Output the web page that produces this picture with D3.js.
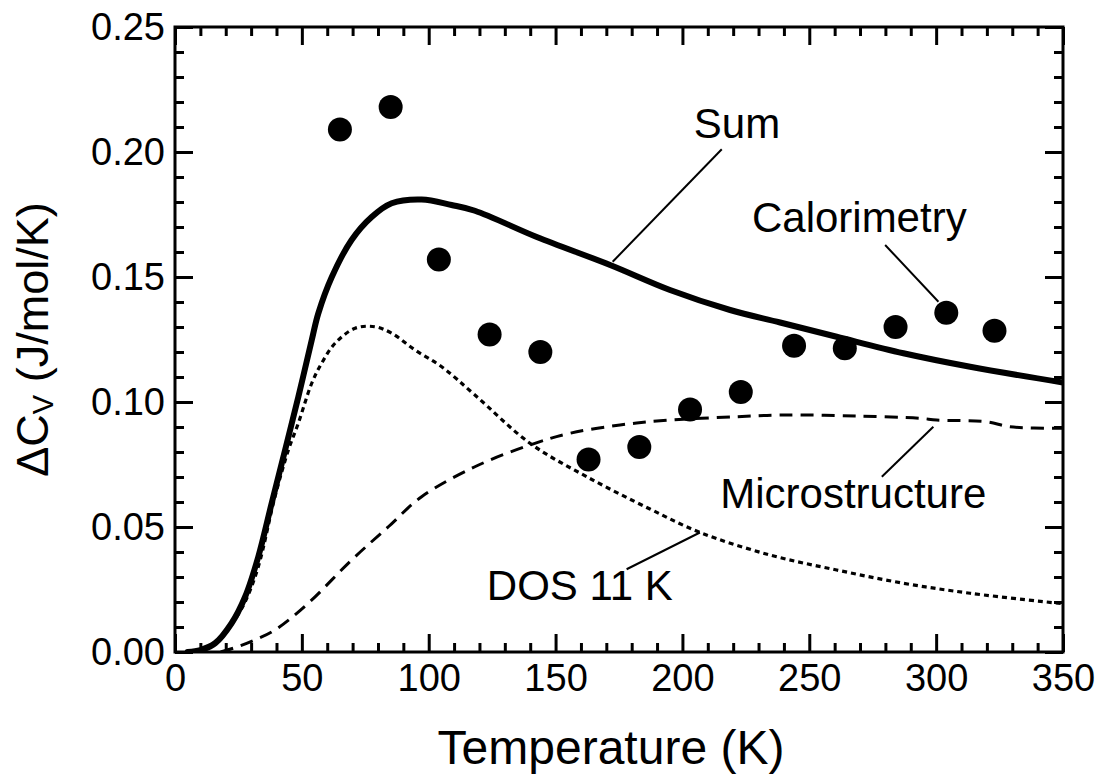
<!DOCTYPE html>
<html>
<head>
<meta charset="utf-8">
<script src="https://cdn.jsdelivr.net/npm/d3@7"></script>
<style>
  html, body { margin: 0; padding: 0; background: #fff; }
  svg { display: block; font-family: "Liberation Sans", Arial, Helvetica, sans-serif; }
</style>
</head>
<body>
<svg id="chart" width="1098" height="777"></svg>
<script>
// Heat capacity difference vs temperature: calorimetry points and model curves
const calT = [65, 85, 104, 124, 144, 163, 183, 203, 223, 244, 264, 284, 304, 323];
const calV = [0.209, 0.218, 0.157, 0.127, 0.120, 0.077, 0.082, 0.097, 0.104, 0.1225, 0.1215, 0.130, 0.1357, 0.1285];

const sumT = [5, 10, 15.8, 22.3, 27.6, 32.8, 38.1, 43.4, 48.6, 53.9, 56.5, 61.8, 69.6, 77.5, 85.4, 97.2, 109, 118.2, 142.6, 171.5, 195.1, 218.8, 238.5, 260.8, 287.1, 313.4, 350];
const sumV = [0.0, 0.0008, 0.0035, 0.0115, 0.022, 0.038, 0.0595, 0.0808, 0.102, 0.1248, 0.1355, 0.150, 0.1648, 0.174, 0.1795, 0.181, 0.1788, 0.1765, 0.166, 0.1548, 0.1448, 0.1368, 0.1318, 0.1261, 0.1195, 0.1141, 0.1078];

const dosT = [5, 10, 15.8, 22.3, 27.6, 32.8, 39.4, 44.7, 48.6, 53.9, 57.8, 63.1, 71, 78.8, 85.4, 94.6, 105.1, 118.2, 139.9, 162.3, 187.2, 207, 234.5, 260.8, 287.1, 313.4, 350];
const dosV = [0.0, 0.0008, 0.0035, 0.011, 0.020, 0.034, 0.0621, 0.0808, 0.0915, 0.1075, 0.1155, 0.1235, 0.1295, 0.1301, 0.1275, 0.1208, 0.1141, 0.1028, 0.0835, 0.0701, 0.0572, 0.0478, 0.0388, 0.0328, 0.0275, 0.0235, 0.0193];

const microT = [18, 25, 31.5, 39.4, 52.5, 69.6, 84.1, 97.2, 118.2, 139.9, 155.7, 175.4, 195.1, 221.4, 238.5, 268.7, 293.7, 300.2, 320, 329, 350];
const microV = [0.0, 0.0022, 0.0048, 0.0088, 0.0195, 0.0368, 0.0501, 0.0621, 0.0741, 0.0828, 0.0875, 0.0908, 0.0928, 0.0941, 0.0948, 0.0944, 0.0935, 0.0928, 0.0921, 0.0901, 0.0895];

const xMajor = [0, 50, 100, 150, 200, 250, 300, 350];
const yMajor = [0.00, 0.05, 0.10, 0.15, 0.20, 0.25];

// label text, anchor (T, V) and leader line from (T, V) to (T, V)
const labels = ["Sum", "Calorimetry", "Microstructure", "DOS 11 K"];
const labelAt = [[204.5, 0.2056], [227.4, 0.1680], [214.9, 0.0576], [122.9, 0.0208]];
const leaders = [
  [[215.5, 0.2011], [172.5, 0.1561]],
  [[279.9, 0.1628], [300.9, 0.1401]],
  [[298.9, 0.0901], [278.6, 0.0701]],
  [[206.9, 0.0478], [178.0, 0.0331]]
];

const svg = d3.select("#chart");
const margin = { left: 175, top: 27, right: 35, bottom: 125 };
const W = 1098 - margin.left - margin.right;
const H = 777 - margin.top - margin.bottom;

const x = d3.scaleLinear().domain([0, 350]).range([0, W]);
const y = d3.scaleLinear().domain([0, 0.25]).range([H, 0]);

const g = svg.append("g").attr("transform", `translate(${margin.left},${margin.top})`);

const minorX = d3.range(0, 351, 10).filter(v => v % 50 !== 0);
const minorY = d3.range(0, 26, 1).filter(v => v % 5 !== 0).map(v => v / 100);

function styleAxis(sel) {
  sel.select(".domain").remove();
  sel.selectAll(".tick line").attr("stroke", "#000").attr("stroke-width", 3);
  sel.selectAll(".tick text").attr("fill", "#000").attr("font-size", 38)
     .attr("font-family", "'Liberation Sans', Arial, sans-serif");
}

// bottom axis (labelled) and minor ticks
g.append("g").attr("transform", `translate(0,${H})`)
  .call(d3.axisBottom(x).tickValues(xMajor).tickFormat(d3.format("d")).tickSize(-18).tickPadding(12))
  .call(styleAxis);
g.append("g").attr("transform", `translate(0,${H})`)
  .call(d3.axisBottom(x).tickValues(minorX).tickFormat("").tickSize(-9))
  .call(styleAxis);
// top mirror
g.append("g")
  .call(d3.axisTop(x).tickValues(xMajor).tickFormat("").tickSize(-18))
  .call(styleAxis);
g.append("g")
  .call(d3.axisTop(x).tickValues(minorX).tickFormat("").tickSize(-9))
  .call(styleAxis);
// left axis
g.append("g")
  .call(d3.axisLeft(y).tickValues(yMajor).tickFormat(d3.format(".2f")).tickSize(-18).tickPadding(10))
  .call(styleAxis);
g.append("g")
  .call(d3.axisLeft(y).tickValues(minorY).tickFormat("").tickSize(-9))
  .call(styleAxis);
// right mirror
g.append("g").attr("transform", `translate(${W},0)`)
  .call(d3.axisRight(y).tickValues(yMajor).tickFormat("").tickSize(-18))
  .call(styleAxis);
g.append("g").attr("transform", `translate(${W},0)`)
  .call(d3.axisRight(y).tickValues(minorY).tickFormat("").tickSize(-9))
  .call(styleAxis);

// frame
g.append("rect").attr("x", 0).attr("y", 0).attr("width", W).attr("height", H)
  .attr("fill", "none").attr("stroke", "#000").attr("stroke-width", 3);

const line = d3.line().x(d => x(d[0])).y(d => y(d[1])).curve(d3.curveCatmullRom.alpha(0.5));
const zip = (a, b) => a.map((v, i) => [v, b[i]]);

g.append("clipPath").attr("id", "plotclip")
  .append("rect").attr("x", 0).attr("y", 0).attr("width", W).attr("height", H);
const plot = g.append("g").attr("clip-path", "url(#plotclip)");

plot.append("path").datum(zip(microT, microV)).attr("d", line)
  .attr("fill", "none").attr("stroke", "#000").attr("stroke-width", 3)
  .attr("stroke-dasharray", "13,8");
plot.append("path").datum(zip(dosT, dosV)).attr("d", line)
  .attr("fill", "none").attr("stroke", "#000").attr("stroke-width", 3.2)
  .attr("stroke-dasharray", "5,4");
plot.append("path").datum(zip(sumT, sumV)).attr("d", line)
  .attr("fill", "none").attr("stroke", "#000").attr("stroke-width", 6)
  .attr("stroke-linejoin", "round").attr("stroke-linecap", "round");

plot.selectAll("circle.cal").data(zip(calT, calV)).enter().append("circle")
  .attr("class", "cal")
  .attr("cx", d => x(d[0])).attr("cy", d => y(d[1])).attr("r", 12)
  .attr("fill", "#000");

// annotations
g.selectAll("line.leader").data(leaders).enter().append("line")
  .attr("class", "leader")
  .attr("x1", d => x(d[0][0])).attr("y1", d => y(d[0][1]))
  .attr("x2", d => x(d[1][0])).attr("y2", d => y(d[1][1]))
  .attr("stroke", "#000").attr("stroke-width", 2);

g.selectAll("text.note").data(labels).enter().append("text")
  .attr("class", "note")
  .attr("x", (d, i) => x(labelAt[i][0])).attr("y", (d, i) => y(labelAt[i][1]))
  .attr("font-size", 42).attr("fill", "#000")
  .text(d => d);

// axis titles
svg.append("text")
  .attr("x", margin.left + W / 2 - 8).attr("y", 764)
  .attr("text-anchor", "middle").attr("font-size", 48).attr("fill", "#000")
  .text("Temperature (K)");

const yt = svg.append("text")
  .attr("transform", `translate(48,${margin.top + H / 2}) rotate(-90)`)
  .attr("text-anchor", "middle").attr("font-size", 45).attr("fill", "#000");
yt.append("tspan").text("\u0394C");
yt.append("tspan").attr("font-size", 29).attr("dy", 5).text("V");
yt.append("tspan").attr("dy", -5).text(" (J/mol/K)");
</script>
</body>
</html>
